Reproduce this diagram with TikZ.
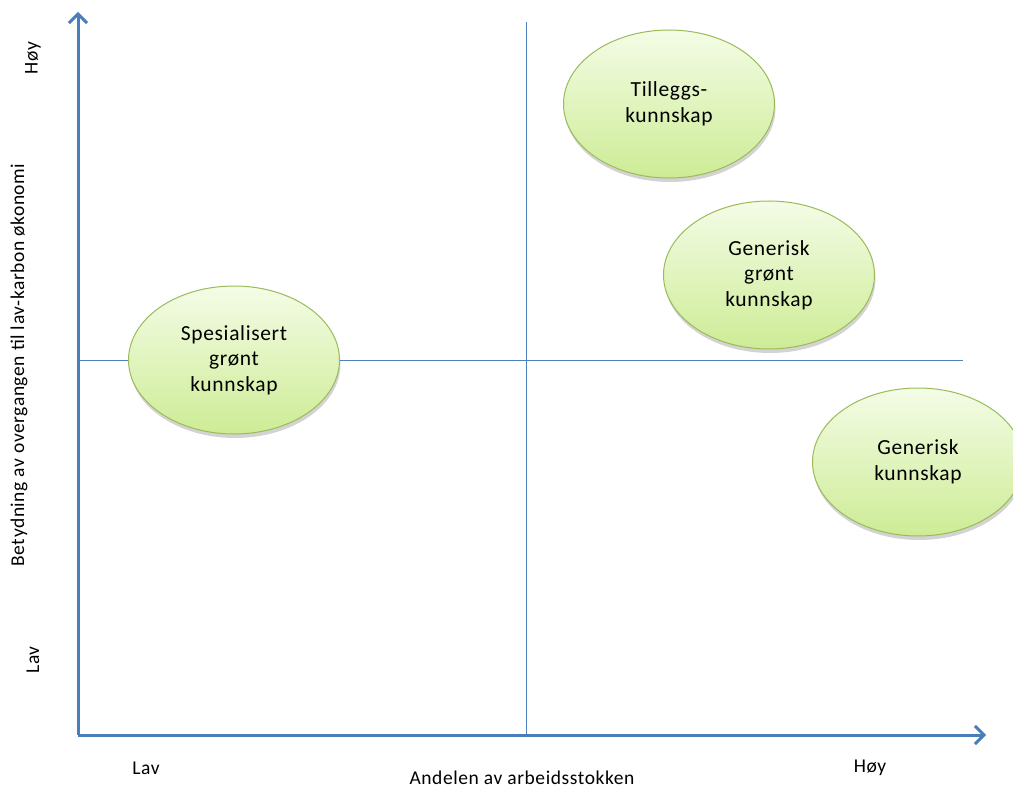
\documentclass[tikz,border=0pt]{standalone}
\usepackage{fontspec}
\setmainfont{Carlito}[LetterSpace=3]
\usetikzlibrary{arrows.meta,shadows,shapes.geometric}
\definecolor{axblue}{HTML}{4A7EBB}
\definecolor{lnblue}{HTML}{4F81BD}
\definecolor{elledge}{HTML}{9BBB59}
\definecolor{elltop}{HTML}{F4FCE6}
\definecolor{ellbot}{HTML}{CDEC96}
\begin{document}
\begin{tikzpicture}[x=1pt,y=-1pt,
  axis/.style={draw=axblue,line width=3pt,-{Straight Barb[length=9pt,width=18pt,line width=3pt]}},
  divider/.style={draw=lnblue,line width=1pt},
  blob/.style={ellipse,draw=elledge,line width=1pt,minimum width=211pt,minimum height=148pt,
    top color=elltop,bottom color=ellbot,align=center,font=\fontsize{21.5}{25.5}\selectfont,
    inner sep=0pt,
    drop shadow={shadow xshift=1pt,shadow yshift=-4pt,opacity=0.35}},
  lbl/.style={font=\fontsize{19.5}{22}\selectfont}
]
\useasboundingbox (0,0) rectangle (1013,789);
\begin{scope}
\clip (0,0) rectangle (1013,789);
\coordinate (o) at (78,735);
\coordinate (ytip) at (78,12);
\coordinate (xtip) at (986,735);
\coordinate (vtop) at (526,22);
\coordinate (vbot) at (526,735);
\coordinate (hl) at (78,360);
\coordinate (hr) at (963,360);
\draw[divider] (vtop) -- (vbot);
\draw[divider] (hl) -- (hr);
\draw[axis] (o) -- (ytip);
\draw[axis] (o) -- (xtip);
\node[blob] (spes) at (234,360) {Spesialisert\\grønt\\kunnskap};
\node[blob] (till) at (669,104) {Tilleggs-\\kunnskap};
\node[blob] (gengr) at (769,275) {Generisk\\grønt\\kunnskap};
\node[blob] (gen) at (918,462) {Generisk\\kunnskap};
\end{scope}
\node[lbl] (xlav) at (146,768) {Lav};
\node[lbl] (xhoy) at (870,768) {Høy};
\node[lbl] (xtitle) at (522,778) {Andelen av arbeidsstokken};
\node[lbl,rotate=90] (yhoy) at (33,58) {Høy};
\node[lbl,rotate=90] (ylav) at (33,660) {Lav};
\node[lbl,rotate=90] (ytitle) at (19,365) {Betydning av overgangen til lav-karbon økonomi};
\end{tikzpicture}
\end{document}
